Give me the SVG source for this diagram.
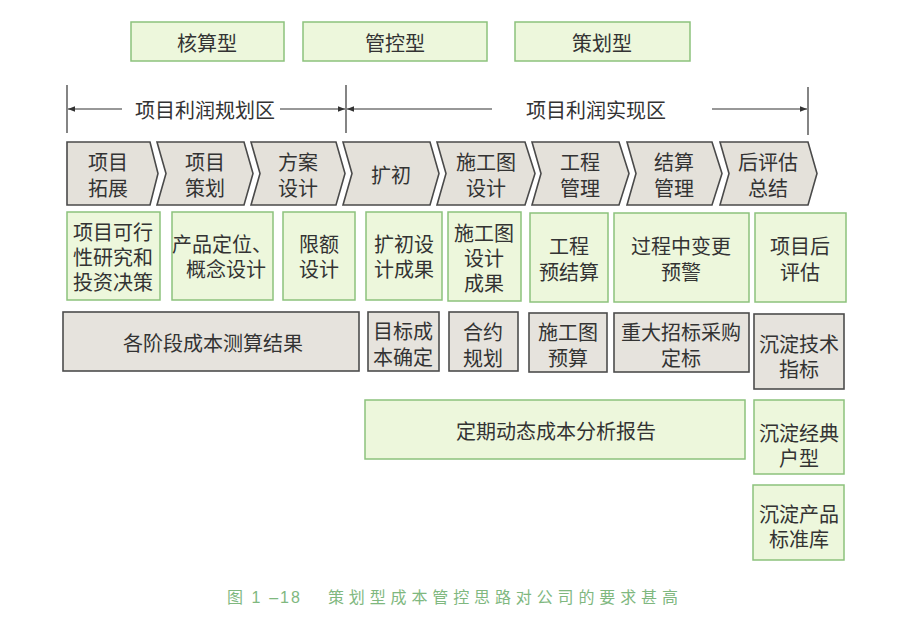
<svg xmlns="http://www.w3.org/2000/svg" width="900" height="627" viewBox="0 0 900 627">
<style>
text{font-family:"Liberation Sans","Noto Sans CJK SC",sans-serif;font-size:20px;fill:#333;text-anchor:middle;dominant-baseline:central;transform:translateY(1.5px)}
.g{fill:#edf7dc;stroke:#8cc27c;stroke-width:1.5}
.y{fill:#e6e3dd;stroke:#4d4d4d;stroke-width:1.6}
.c{fill:#e4e1da;stroke:#4a4a4a;stroke-width:1.6}
.ln{stroke:#333;stroke-width:1.2;fill:none}
.cap{fill:#7fb87f;font-size:16px;text-anchor:start}
</style>
<defs>
<marker id="ah" viewBox="0 0 10 10" refX="10" refY="5" markerWidth="9" markerHeight="7" orient="auto" markerUnits="userSpaceOnUse">
<path d="M0,1 L10,5 L0,9 Z" fill="#333"/>
</marker>
</defs>
<rect width="900" height="627" fill="#fff"/>

<g id="top-types">
<g id="hesuan"><rect class="g" x="131" y="22" width="153" height="39"/><text x="207" y="42">核算型</text></g>
<g id="guankong"><rect class="g" x="303" y="22" width="184" height="39"/><text x="395" y="42">管控型</text></g>
<g id="cehua"><rect class="g" x="515" y="22" width="175" height="39"/><text x="602" y="42">策划型</text></g>
</g>

<g id="connectors">
<line class="ln" x1="67" y1="85" x2="67" y2="133"/>
<line class="ln" x1="346" y1="85" x2="346" y2="133"/>
<line class="ln" x1="808" y1="87" x2="808" y2="135"/>
<line class="ln" x1="122" y1="109" x2="68" y2="109" marker-end="url(#ah)"/>
<line class="ln" x1="280" y1="109" x2="345" y2="109" marker-end="url(#ah)"/>
<line class="ln" x1="492" y1="109" x2="347" y2="109" marker-end="url(#ah)"/>
<line class="ln" x1="712" y1="109" x2="807" y2="109" marker-end="url(#ah)"/>
</g>
<g id="zones">
<text x="205" y="109">项目利润规划区</text>
<text x="596" y="109">项目利润实现区</text>
</g>

<g id="stages">
<g id="s1"><path class="c" d="M67,142 L150,142 L158,173.5 L150,205 L67,205 Z"/><text x="108" y="161">项目<tspan x="108" dy="26">拓展</tspan></text></g>
<g id="s2"><path class="c" d="M157,142 L244,142 L253,173.5 L244,205 L157,205 L166,173.5 Z"/><text x="205" y="161">项目<tspan x="205" dy="26">策划</tspan></text></g>
<g id="s3"><path class="c" d="M251,142 L336,142 L345,173.5 L336,205 L251,205 L260,173.5 Z"/><text x="298" y="161">方案<tspan x="298" dy="26">设计</tspan></text></g>
<g id="s4"><path class="c" d="M343,142 L430,142 L439,173.5 L430,205 L343,205 L352,173.5 Z"/><text x="391" y="174">扩初</text></g>
<g id="s5"><path class="c" d="M437,142 L525,142 L535,173.5 L525,205 L437,205 L446,173.5 Z"/><text x="486" y="161">施工图<tspan x="486" dy="26">设计</tspan></text></g>
<g id="s6"><path class="c" d="M532,142 L619,142 L629,173.5 L619,205 L532,205 L541,173.5 Z"/><text x="580" y="161">工程<tspan x="580" dy="26">管理</tspan></text></g>
<g id="s7"><path class="c" d="M627,142 L712,142 L722,173.5 L712,205 L627,205 L636,173.5 Z"/><text x="674" y="161">结算<tspan x="674" dy="26">管理</tspan></text></g>
<g id="s8"><path class="c" d="M720,142 L808,142 L817,173.5 L808,205 L720,205 L729,173.5 Z"/><text x="768" y="161">后评估<tspan x="768" dy="26">总结</tspan></text></g>
</g>

<g id="row-green">
<g id="g1"><rect class="g" x="67" y="212" width="93" height="88"/><text x="113" y="231">项目可行<tspan x="113" dy="25">性研究和</tspan><tspan x="113" dy="25">投资决策</tspan></text></g>
<g id="g2"><rect class="g" x="172" y="212" width="101" height="88"/><text x="222" y="243">产品定位、<tspan x="226" dy="25">概念设计</tspan></text></g>
<g id="g3"><rect class="g" x="283" y="212" width="72" height="88"/><text x="319" y="243">限额<tspan x="319" dy="25">设计</tspan></text></g>
<g id="g4"><rect class="g" x="366" y="212" width="76" height="88"/><text x="404" y="243">扩初设<tspan x="404" dy="25">计成果</tspan></text></g>
<g id="g5"><rect class="g" x="448" y="212" width="73" height="89"/><text x="484" y="232">施工图<tspan x="484" dy="25">设计</tspan><tspan x="484" dy="25">成果</tspan></text></g>
<g id="g6"><rect class="g" x="530" y="213" width="78" height="89"/><text x="569" y="245">工程<tspan x="569" dy="26">预结算</tspan></text></g>
<g id="g7"><rect class="g" x="614" y="213" width="135" height="89"/><text x="681" y="245">过程中变更<tspan x="681" dy="26">预警</tspan></text></g>
<g id="g8"><rect class="g" x="755" y="213" width="91" height="89"/><text x="800" y="245">项目后<tspan x="800" dy="26">评估</tspan></text></g>
</g>

<g id="row-gray">
<g id="y1"><rect class="y" x="63" y="312" width="296" height="59"/><text x="213" y="342">各阶段成本测算结果</text></g>
<g id="y2"><rect class="y" x="368" y="312" width="71" height="59"/><text x="403" y="330">目标成<tspan x="403" dy="26">本确定</tspan></text></g>
<g id="y3"><rect class="y" x="449" y="312" width="69" height="59"/><text x="483" y="331">合约<tspan x="483" dy="26">规划</tspan></text></g>
<g id="y4"><rect class="y" x="529" y="313" width="78" height="59"/><text x="568" y="331">施工图<tspan x="568" dy="26">预算</tspan></text></g>
<g id="y5"><rect class="y" x="614" y="313" width="135" height="59"/><text x="681" y="331">重大招标采购<tspan x="681" dy="26">定标</tspan></text></g>
<g id="y6"><rect class="y" x="754" y="314" width="90" height="75"/><text x="799" y="343">沉淀技术<tspan x="799" dy="25">指标</tspan></text></g>
</g>

<g id="row-bottom">
<g id="b1"><rect class="g" x="365" y="400" width="380" height="59"/><text x="556" y="430">定期动态成本分析报告</text></g>
<g id="b2"><rect class="g" x="754" y="400" width="90" height="74"/><text x="799" y="432">沉淀经典<tspan x="799" dy="25">户型</tspan></text></g>
<g id="b3"><rect class="g" x="753" y="485" width="91" height="75"/><text x="799" y="513">沉淀产品<tspan x="799" dy="25">标准库</tspan></text></g>
</g>

<g id="caption">
<text class="cap" x="227" y="596" textLength="73" lengthAdjust="spacing">图 1 –18</text>
<text class="cap" x="328" y="596" textLength="350" lengthAdjust="spacing">策划型成本管控思路对公司的要求甚高</text>
</g>
</svg>
